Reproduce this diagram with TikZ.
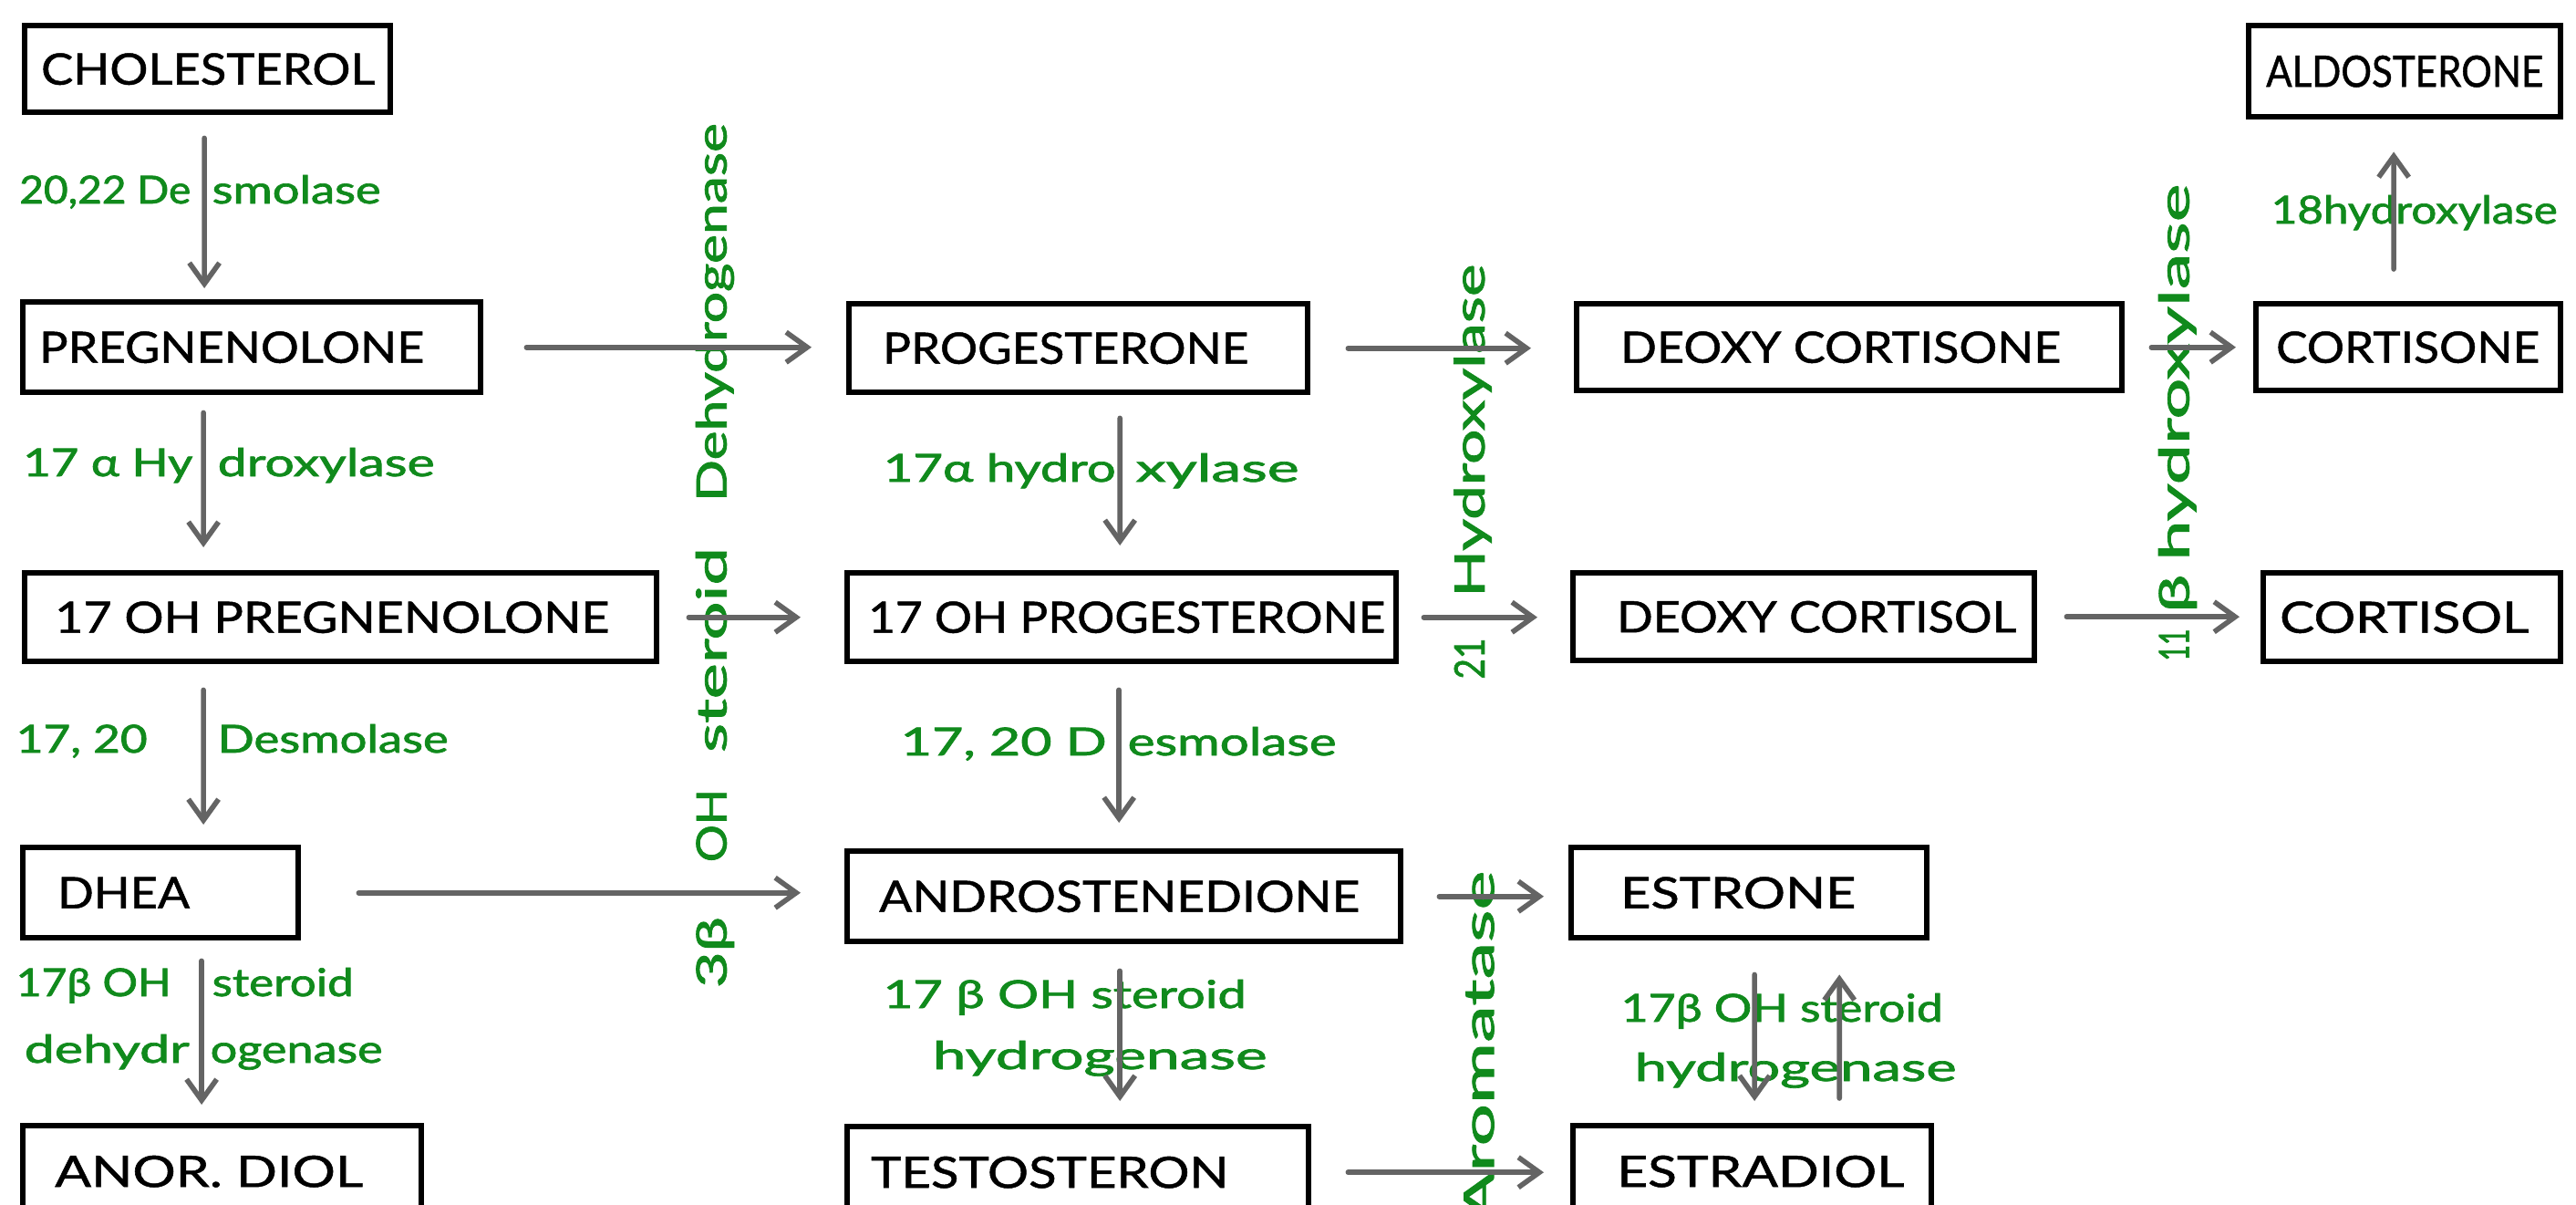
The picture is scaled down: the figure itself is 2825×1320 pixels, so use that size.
\documentclass[tikz,border=0pt]{standalone}
\usepackage{fontspec}
\setmainfont{Lato}
\newfontfamily\namefont{Lato}[FakeBold=1]
\newfontfamily\enzfont{Lato}[FakeBold=1.6]
\usetikzlibrary{arrows.meta}
\newlength\pxu
\setlength\pxu{0.01cm}
\definecolor{enzgreen}{RGB}{16,138,28}
\definecolor{flowgray}{RGB}{100,100,100}
% box content: total width, left inset, text width, text
\newcommand\compound[4]{\hbox to #1\pxu{\hskip#2\pxu\resizebox{#3\pxu}{\height}{#4}\hfil}}
% text stretched to a given width
\newcommand\fitw[2]{\resizebox{#1\pxu}{\height}{#2}}

\begin{document}
\begin{tikzpicture}[x=0.01cm, y=-0.01cm,
  cbox/.style={draw=black, line width=1.8pt, anchor=north west, inner sep=0pt,
    font=\namefont\fontsize{13.5pt}{15pt}\selectfont},
  enz/.style={text=enzgreen, inner sep=0pt, font=\enzfont\fontsize{12pt}{14pt}\selectfont},
  enzv/.style={enz, rotate=90, font=\enzfont\fontsize{13pt}{15pt}\selectfont},
  flow/.style={draw=flowgray, line width=1.6pt, line cap=round,
    -{Straight Barb[length=2.3mm,width=3.3mm]}}]

\fill[white] (0,0) rectangle (2825,1320);
\useasboundingbox (0,0) rectangle (2825,1320);

% compounds
\node[cbox, minimum height=0.95cm] (chol) at (24,25) {\compound{401}{18}{366}{CHOLESTEROL}};
\node[cbox, minimum height=0.99cm] (preg) at (22,328) {\compound{502}{18}{422}{PREGNENOLONE}};
\node[cbox, minimum height=0.97cm] (ohpreg) at (24,625) {\compound{693}{33}{608}{17 OH PREGNENOLONE}};
\node[cbox, minimum height=0.99cm] (dhea) at (22,926) {\compound{302}{38}{145}{DHEA}};
\node[cbox, minimum height=1.00cm] (anor) at (22,1231) {\compound{437}{35}{338}{ANOR. DIOL}};
\node[cbox, minimum height=0.97cm] (prog) at (928,330) {\compound{503}{37}{401}{PROGESTERONE}};
\node[cbox, minimum height=0.97cm] (ohprog) at (926,625) {\compound{602}{23}{567}{17 OH PROGESTERONE}};
\node[cbox, minimum height=0.99cm] (andro) at (926,930) {\compound{607}{35}{527}{ANDROSTENEDIONE}};
\node[cbox, minimum height=1.00cm] (testo) at (926,1232) {\compound{506}{26}{392}{TESTOSTERON}};
\node[cbox, minimum height=0.95cm] (dcortisone) at (1726,330) {\compound{598}{48}{483}{DEOXY CORTISONE}};
\node[cbox, minimum height=0.96cm] (dcortisol) at (1722,625) {\compound{506}{48}{438}{DEOXY CORTISOL}};
\node[cbox, minimum height=0.99cm] (estrone) at (1720,926) {\compound{390}{54}{258}{ESTRONE}};
\node[cbox, minimum height=1.00cm] (estradiol) at (1722,1231) {\compound{393}{48}{315}{ESTRADIOL}};
\node[cbox, minimum height=1.00cm] (aldo) at (2463,25) {\compound{342}{19}{304}{ALDOSTERONE}};
\node[cbox, minimum height=0.95cm] (cortisone) at (2471,330) {\compound{334}{22}{289}{CORTISONE}};
\node[cbox, minimum height=0.97cm] (cortisol) at (2479,625) {\compound{326}{18}{273}{CORTISOL}};

% enzymes, left column
\node[enz, anchor=base east] (l1a) at (210,223) {\fitw{188}{20,22 De}};
\node[enz, anchor=base west] (l1b) at (232,223) {\fitw{185}{smolase}};
\node[enz, anchor=base east] (l2a) at (212,522) {\fitw{186}{17 α Hy}};
\node[enz, anchor=base west] (l2b) at (238,522) {\fitw{238}{droxylase}};
\node[enz, anchor=base west] (l3a) at (17,825) {\fitw{144}{17, 20}};
\node[enz, anchor=base west] (l3b) at (238,825) {\fitw{253}{Desmolase}};
\node[enz, anchor=base west] (l4a) at (17,1092) {\fitw{170}{17β OH}};
\node[enz, anchor=base west] (l4b) at (232,1092) {\fitw{155}{steroid}};
\node[enz, anchor=base west] (l5a) at (26,1165) {\fitw{181}{dehydr}};
\node[enz, anchor=base west] (l5b) at (230,1165) {\fitw{189}{ogenase}};

% enzymes, middle column
\node[enz, anchor=base west] (m1a) at (968,528) {\fitw{255}{17α hydro}};
\node[enz, anchor=base west] (m1b) at (1245,528) {\fitw{179}{xylase}};
\node[enz, anchor=base west] (m2a) at (987,828) {\fitw{226}{17, 20 D}};
\node[enz, anchor=base west] (m2b) at (1236,828) {\fitw{229}{esmolase}};
\node[enz, anchor=base west] (m3) at (968,1105) {\fitw{398}{17 β OH steroid}};
\node[enz, anchor=base west] (m4) at (1022,1172) {\fitw{367}{hydrogenase}};

% enzymes, right side
\node[enz, anchor=base west] (r1) at (1777,1120) {\fitw{353}{17β OH steroid}};
\node[enz, anchor=base west] (r2) at (1792,1185) {\fitw{353}{hydrogenase}};
\node[enz, anchor=base west] (r3) at (2490,245) {\fitw{314}{18hydroxylase}};

% vertical enzyme labels
\node[enzv] (v1) at (784,609) {\fitw{78}{3β}\hskip60\pxu\fitw{80}{OH}\hskip40\pxu\fitw{225}{steroid}\hskip50\pxu\fitw{415}{Dehydrogenase}};
\node[enzv] (v2) at (1615,517) {\fitw{45}{21}\hskip45\pxu\fitw{365}{Hydroxylase}};
\node[enzv] (v3) at (2388,463) {\fitw{35}{11}\hskip18\pxu\fitw{42}{β}\hskip15\pxu\fitw{413}{hydroxylase}};
\node[enzv] (v4) at (1622,1147) {\fitw{385}{Aromatase}};

% vertical reactions
\draw[flow, shorten <=0.25cm, shorten >=0.12cm] ([xshift=2.00cm]chol.south west) -- ([xshift=2.02cm]preg.north west);
\draw[flow, shorten <=0.19cm, shorten >=0.25cm] ([xshift=2.01cm]preg.south west) -- ([xshift=1.99cm]ohpreg.north west);
\draw[flow, shorten <=0.28cm, shorten >=0.22cm] ([xshift=1.99cm]ohpreg.south west) -- ([xshift=2.01cm]dhea.north west);
\draw[flow, shorten <=0.22cm, shorten >=0.20cm] ([xshift=1.99cm]dhea.south west) -- ([xshift=1.99cm]anor.north west);
\draw[flow, shorten <=0.25cm, shorten >=0.27cm] ([xshift=3.00cm]prog.south west) -- ([xshift=3.02cm]ohprog.north west);
\draw[flow, shorten <=0.28cm, shorten >=0.28cm] ([xshift=3.01cm]ohprog.south west) -- ([xshift=3.01cm]andro.north west);
\draw[flow, shorten <=0.29cm, shorten >=0.25cm] ([xshift=3.02cm]andro.south west) -- ([xshift=3.02cm]testo.north west);
\draw[flow, shorten <=0.37cm, shorten >=0.24cm] ([xshift=2.04cm]estrone.south west) -- ([xshift=2.02cm]estradiol.north west);
\draw[flow, shorten <=0.27cm, shorten >=0.37cm] ([xshift=2.95cm]estradiol.north west) -- ([xshift=2.97cm]estrone.south west);
\draw[flow, shorten <=0.35cm, shorten >=0.35cm] ([xshift=1.54cm]cortisone.north west) -- ([xshift=1.62cm]aldo.south west);

% horizontal reactions
\draw[flow, shorten <=0.47cm, shorten >=0.38cm] (preg.east) -- (preg.east -| prog.west);
\draw[flow, shorten <=0.32cm, shorten >=0.48cm] (ohpreg.east) -- (ohpreg.east -| ohprog.west);
\draw[flow, shorten <=0.63cm, shorten >=0.48cm] (dhea.east) -- (dhea.east -| andro.west);
\draw[flow, shorten <=0.41cm, shorten >=0.47cm] (prog.east) -- (prog.east -| dcortisone.west);
\draw[flow, shorten <=0.27cm, shorten >=0.36cm] (ohprog.east) -- (ohprog.east -| dcortisol.west);
\draw[flow, shorten <=0.39cm, shorten >=0.27cm] (andro.east) -- (andro.east -| estrone.west);
\draw[flow, shorten <=0.40cm, shorten >=0.29cm] (testo.east) -- (testo.east -| estradiol.west);
\draw[flow, shorten <=0.29cm, shorten >=0.19cm] (dcortisone.east) -- (dcortisone.east -| cortisone.west);
\draw[flow, shorten <=0.32cm, shorten >=0.23cm] (dcortisol.east) -- (dcortisol.east -| cortisol.west);
\end{tikzpicture}
\end{document}
